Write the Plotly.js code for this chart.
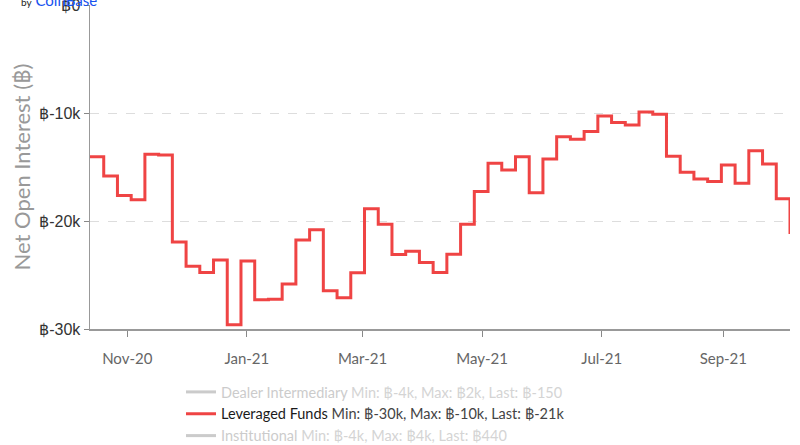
<!DOCTYPE html>
<html>
<head>
<meta charset="utf-8">
<script src="https://cdn.plot.ly/plotly-3.0.1.min.js"></script>
<style>
  html, body { margin: 0; padding: 0; background: #fff; }
  #chart { width: 800px; height: 445px; }
</style>
</head>
<body>
<div id="chart"></div>
<script>
// weekly COT report dates (Tuesdays)
var dates = [
  '2020-10-13', '2020-10-20', '2020-10-27', '2020-11-03', '2020-11-10', '2020-11-17',
  '2020-11-24', '2020-12-01', '2020-12-08', '2020-12-15', '2020-12-22', '2020-12-29',
  '2021-01-05', '2021-01-12', '2021-01-19', '2021-01-26', '2021-02-02', '2021-02-09',
  '2021-02-16', '2021-02-23', '2021-03-02', '2021-03-09', '2021-03-16', '2021-03-23',
  '2021-03-30', '2021-04-06', '2021-04-13', '2021-04-20', '2021-04-27', '2021-05-04',
  '2021-05-11', '2021-05-18', '2021-05-25', '2021-06-01', '2021-06-08', '2021-06-15',
  '2021-06-22', '2021-06-29', '2021-07-06', '2021-07-13', '2021-07-20', '2021-07-27',
  '2021-08-03', '2021-08-10', '2021-08-17', '2021-08-24', '2021-08-31', '2021-09-07',
  '2021-09-14', '2021-09-21', '2021-09-28', '2021-10-05'
];

// leveraged funds net open interest (BTC)
var leveraged = [
  -14050, -15830, -17640, -18040, -13830, -13900,
  -21940, -24180, -24760, -23600, -29600, -23700,
  -27300, -27250, -25840, -21750, -20800, -26450,
  -27100, -24800, -18870, -20310, -23100, -22800,
  -23840, -24760, -23070, -20310, -17270, -14660,
  -15280, -14050, -17390, -14260, -12200, -12420,
  -11710, -10280, -10890, -11100, -9900, -10120,
  -14010, -15490, -16100, -16350, -14820, -16500,
  -13500, -14720, -17950, -21200
];

// hidden series: switched off, only their legend entries show
var dealerX = [null];
var dealerY = [null];
var institutionalX = [null];
var institutionalY = [null];

var yTickVals = [0, -10000, -20000, -30000];
var yTickText = ['฿0', '฿-10k', '฿-20k', '฿-30k'];

var dealerName = '<span style="color:#999">Dealer Intermediary</span> <span style="color:#aaa">Min: ฿-4k, Max: ฿2k, Last: ฿-150</span>';
var leveragedName = '<span style="color:#1a1a1a">Leveraged Funds</span> <span style="color:#444">Min: ฿-30k, Max: ฿-10k, Last: ฿-21k</span>';
var institutionalName = '<span style="color:#999">Institutional</span> <span style="color:#aaa">Min: ฿-4k, Max: ฿4k, Last: ฿440</span>';

var traces = [
  {
    x: dealerX, y: dealerY, type: 'scatter', mode: 'lines',
    name: dealerName, visible: 'legendonly',
    line: {color: '#999', width: 3, shape: 'hv'}
  },
  {
    x: dates, y: leveraged, type: 'scatter', mode: 'lines',
    name: leveragedName,
    line: {color: '#ef4444', width: 3, shape: 'hv'}
  },
  {
    x: institutionalX, y: institutionalY, type: 'scatter', mode: 'lines',
    name: institutionalName, visible: 'legendonly',
    line: {color: '#999', width: 3, shape: 'hv'}
  }
];

var layout = {
  width: 800,
  height: 445,
  margin: {l: 90, r: 10, t: 5, b: 116, autoexpand: false},
  paper_bgcolor: '#fff',
  plot_bgcolor: '#fff',
  font: {family: 'Lato, "Open Sans", sans-serif', color: '#444'},
  showlegend: true,
  legend: {
    orientation: 'v',
    x: 0.13, xanchor: 'left',
    y: -0.145, yanchor: 'top',
    font: {family: 'Lato, sans-serif', size: 14.5, color: '#333'},
    bgcolor: 'rgba(0,0,0,0)'
  },
  xaxis: {
    type: 'date',
    range: ['2020-10-13', '2021-10-05'],
    tick0: '2020-11-01',
    dtick: 'M2',
    tickformat: '%b-%y',
    ticks: 'outside',
    ticklen: 6,
    tickcolor: '#888',
    ticklabelstandoff: 9,
    showgrid: false,
    zeroline: false,
    showline: true,
    linecolor: '#999',
    linewidth: 1.5,
    tickfont: {family: 'Lato, sans-serif', size: 15, color: '#666'}
  },
  yaxis: {
    range: [-30000, 0],
    tickvals: yTickVals,
    ticktext: yTickText,
    ticks: 'outside',
    ticklen: 5,
    tickcolor: '#888',
    ticklabeloverflow: 'allow',
    showgrid: true,
    gridcolor: '#ddd',
    griddash: 'dash',
    zeroline: false,
    showline: true,
    linecolor: '#999',
    linewidth: 1.5,
    tickfont: {family: '"Liberation Sans", Arial, sans-serif', size: 16, color: '#333'},
    title: {
      text: 'Net Open Interest (฿)',
      font: {family: 'Lato, sans-serif', size: 22, color: '#999'},
      standoff: 2
    }
  },
  annotations: [
    {
      xref: 'paper', yref: 'paper',
      x: -0.102, y: 1.014,
      xanchor: 'left', yanchor: 'middle',
      showarrow: false,
      text: '<span style="font-size:10px;color:#222">by</span> <span style="color:#1652f0">CoinBase</span>',
      font: {family: 'Lato, sans-serif', size: 15}
    }
  ]
};

Plotly.newPlot('chart', traces, layout, {displayModeBar: false, staticPlot: true});
</script>
</body>
</html>
